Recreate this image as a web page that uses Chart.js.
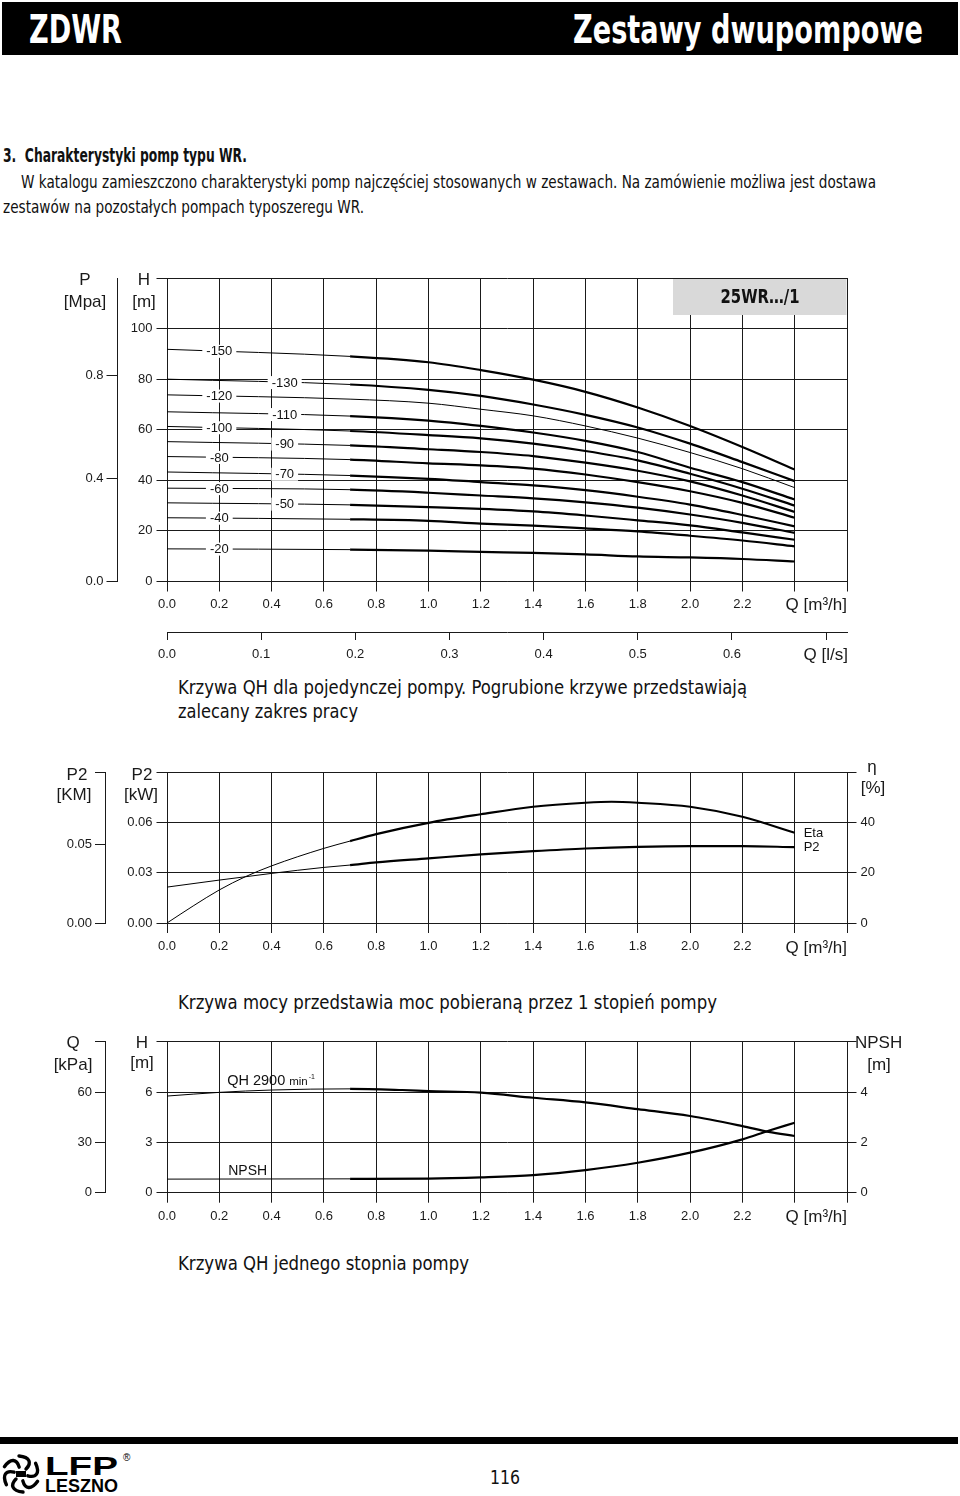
<!DOCTYPE html>
<html lang="pl">
<head>
<meta charset="utf-8">
<title>ZDWR – Zestawy dwupompowe</title>
<script src="https://cdn.jsdelivr.net/npm/chart.js@4.4.1/dist/chart.umd.min.js"></script>
<style>
  body { margin: 0; background: #fff; }
  #page { position: relative; width: 960px; height: 1496px; overflow: hidden; color: #111;
          font-family: "Liberation Sans Narrow", "DejaVu Sans Condensed", "Liberation Sans", Arial, sans-serif; }
  .t { position: absolute; white-space: nowrap; line-height: 1; transform-origin: 0 0; }
  .bar { position: absolute; background: #000; }
  .box { position: absolute; left: 0; width: 960px; }
</style>
</head>
<body>
<div id="page">
  <div class="bar" style="left:2px;top:2px;width:956px;height:53px"></div>
  <div class="t" data-w="93" style="left:29px;top:10px;font-size:39px;font-weight:bold;color:#fff">ZDWR</div>
  <div class="t" data-w="350" style="left:573px;top:9.5px;font-size:39px;font-weight:bold;color:#fff">Zestawy dwupompowe</div>

  <div class="t" data-w="244" style="left:3px;top:145.5px;font-size:19px;font-weight:bold">3.&nbsp; Charakterystyki pomp typu WR.</div>
  <div class="t" data-w="855" style="left:21px;top:172.5px;font-size:18.5px">W katalogu zamieszczono charakterystyki pomp najczęściej stosowanych w zestawach. Na zamówienie możliwa jest dostawa</div>
  <div class="t" data-w="361" style="left:3px;top:197.5px;font-size:18.5px">zestawów na pozostałych pompach typoszeregu WR.</div>

  <div class="box" style="top:260px;height:410px"><canvas id="qhChart"></canvas></div>
  <div class="t" data-w="569" style="left:178px;top:677px;font-size:20px">Krzywa QH dla pojedynczej pompy. Pogrubione krzywe przedstawiają</div>
  <div class="t" data-w="180" style="left:178px;top:701px;font-size:20px">zalecany zakres pracy</div>

  <div class="box" style="top:740px;height:230px"><canvas id="powerChart"></canvas></div>
  <div class="t" data-w="539" style="left:178px;top:992px;font-size:20px">Krzywa mocy przedstawia moc pobieraną przez 1 stopień pompy</div>

  <div class="box" style="top:1020px;height:210px"><canvas id="stageChart"></canvas></div>
  <div class="t" data-w="291" style="left:178px;top:1253px;font-size:20px">Krzywa QH jednego stopnia pompy</div>

  <div class="bar" style="left:0;top:1437px;width:958px;height:7px"></div>
  <svg style="position:absolute;left:0;top:1451px" width="140" height="44" viewBox="0 0 140 44">
    <g transform="translate(21,23)" fill="none" stroke="#000" stroke-width="3.4" stroke-linecap="round">
      <path d="M5,-5 C11,-11 9,-17 -2,-18"/>
      <path d="M5,-5 C11,-11 9,-17 -2,-18" transform="rotate(60)"/>
      <path d="M5,-5 C11,-11 9,-17 -2,-18" transform="rotate(120)"/>
      <path d="M5,-5 C11,-11 9,-17 -2,-18" transform="rotate(180)"/>
      <path d="M5,-5 C11,-11 9,-17 -2,-18" transform="rotate(240)"/>
      <path d="M5,-5 C11,-11 9,-17 -2,-18" transform="rotate(300)"/>
    </g>
    <rect x="16" y="20" width="10" height="6" fill="#000"/>
    <text x="45" y="24" font-family="Liberation Sans, Arial" font-weight="bold" font-size="26" textLength="73" lengthAdjust="spacingAndGlyphs">LFP</text>
    <text x="45" y="41" font-family="Liberation Sans, Arial" font-weight="bold" font-size="19" textLength="73" lengthAdjust="spacingAndGlyphs">LESZNO</text>
    <text x="123" y="10" font-family="Liberation Sans, Arial" font-size="10">®</text>
  </svg>
  <div class="t" data-w="30" style="left:490px;top:1468px;font-size:19px">116</div>
</div>

<script>
// ---------- dane: wykres QH dla zestawu stopni ----------
const qhFlow = [0, 0.7, 1.0, 1.2, 1.4, 1.6, 1.8, 2.0, 2.2, 2.4];
const stageNames = ["-150", "-130", "-120", "-110", "-100", "-90", "-80", "-70", "-60", "-50", "-40", "-20"];
const head150 = [91.8, 89.0, 86.7, 83.6, 79.8, 75.0, 68.8, 61.5, 53.2, 44.3];
const head130 = [80.0, 77.9, 75.8, 73.4, 70.0, 65.9, 60.9, 54.5, 47.2, 39.7];
const head120 = [73.8, 72.1, 70.5, 68.1, 65.5, 61.5, 56.7, 51.0, 44.6, 37.1];
const head110 = [67.1, 65.4, 63.6, 61.5, 58.9, 55.6, 51.2, 45.0, 39.3, 32.4];
const head100 = [61.3, 59.5, 57.9, 56.6, 54.5, 51.6, 47.9, 42.6, 36.7, 30.0];
const head90 = [55.3, 53.8, 52.3, 51.2, 49.6, 47.0, 43.8, 39.6, 34.0, 27.5];
const head80 = [49.4, 48.2, 46.7, 45.9, 44.6, 42.3, 39.3, 35.7, 31.1, 25.2];
const head70 = [43.3, 41.9, 40.6, 39.3, 38.0, 36.1, 33.5, 30.4, 26.3, 21.8];
const head60 = [36.9, 36.3, 35.1, 34.0, 32.9, 31.3, 29.2, 26.5, 23.2, 19.2];
const head50 = [31.1, 30.3, 29.4, 28.7, 27.7, 26.1, 24.2, 22.2, 19.4, 16.5];
const head40 = [25.2, 24.6, 24.0, 22.9, 22.1, 21.0, 19.8, 18.1, 16.2, 13.9];
const head20 = [12.9, 12.6, 12.2, 11.7, 11.3, 10.7, 9.9, 9.5, 8.9, 7.9];
const stageHeads = [head150, head130, head120, head110, head100, head90, head80, head70, head60, head50, head40, head20];
// gdzie stoi opis krzywej (Q w m3/h)
const stageLabelAt = [0.2, 0.45, 0.2, 0.45, 0.2, 0.45, 0.2, 0.45, 0.2, 0.45, 0.2, 0.2];
// krzywa -120 nie jest pogrubiona
const stageThick = [true, true, false, true, true, true, true, true, true, true, true, true];

// ---------- dane: krzywa mocy i sprawności ----------
const etaFlow = [0, 0.1, 0.2, 0.3, 0.4, 0.6, 0.7, 0.8, 1.0, 1.2, 1.4, 1.6, 1.7, 1.8, 2.0, 2.2, 2.4];
const etaValues = [0, 6.8, 13.2, 18.5, 22.8, 29.8, 32.7, 35.5, 40.0, 43.4, 46.4, 48.0, 48.4, 48.0, 46.4, 42.4, 36.0];
const p2Flow = [0, 0.2, 0.4, 0.6, 0.7, 0.8, 1.0, 1.2, 1.4, 1.6, 1.8, 2.0, 2.2, 2.4];
const p2Values = [0.0215, 0.0257, 0.0297, 0.0333, 0.0347, 0.0363, 0.0387, 0.0411, 0.043, 0.0446, 0.0456, 0.046, 0.046, 0.0454];

// ---------- dane: jeden stopień ----------
const stageFlow = [0, 0.2, 0.4, 0.7, 0.9, 1.0, 1.2, 1.4, 1.6, 1.8, 2.0, 2.2, 2.3, 2.4];
const stageHead = [5.76, 5.98, 6.12, 6.19, 6.12, 6.06, 5.96, 5.66, 5.38, 4.98, 4.57, 3.97, 3.63, 3.38];
const npshFlow = [0, 0.7, 1.0, 1.2, 1.4, 1.6, 1.8, 2.0, 2.2, 2.3, 2.4];
const npshValues = [0.54, 0.55, 0.56, 0.61, 0.70, 0.90, 1.19, 1.59, 2.12, 2.46, 2.78];

// ---------- podziałki ----------
const flowTicks = [0, 0.2, 0.4, 0.6, 0.8, 1.0, 1.2, 1.4, 1.6, 1.8, 2.0, 2.2, 2.4, 2.6];
const flowTickLabels = ["0.0", "0.2", "0.4", "0.6", "0.8", "1.0", "1.2", "1.4", "1.6", "1.8", "2.0", "2.2", "", ""];
const lpsTicks = [0, 0.1, 0.2, 0.3, 0.4, 0.5, 0.6, 0.7];
const lpsTickLabels = ["0.0", "0.1", "0.2", "0.3", "0.4", "0.5", "0.6", ""];
const headTicks = [0, 20, 40, 60, 80, 100, 120];
const headTickLabels = ["0", "20", "40", "60", "80", "100", ""];
const pressTicks = [0, 0.4, 0.8];
const pressTickLabels = ["0.0", "0.4", "0.8"];
const kwTicks = [0, 0.03, 0.06, 0.09];
const kwTickLabels = ["0.00", "0.03", "0.06", ""];
const kmTicks = [0, 0.05, 0.096];
const kmTickLabels = ["0.00", "0.05", ""];
const etaTicks = [0, 20, 40, 60];
const etaTickLabels = ["0", "20", "40", ""];
const stageHeadTicks = [0, 3, 6, 9];
const stageHeadTickLabels = ["0", "3", "6", ""];
const kpaTicks = [0, 30, 60, 90];
const kpaTickLabels = ["0", "30", "60", ""];
const npshTicks = [0, 2, 4, 6];
const npshTickLabels = ["0", "2", "4", ""];

// ---------- wspólne ustawienia ----------
const ink = "#1a1a1a";
const sans = "'Liberation Sans', Arial, sans-serif";
const narrow = "'Liberation Sans Narrow', 'DejaVu Sans Condensed', 'Liberation Sans', Arial, sans-serif";
const tickFont = { family: sans, size: 13 };

function points(xs, ys) {
  return xs.map((x, i) => ({ x: x, y: ys[i] }));
}
function fixedSize(size) {
  return function (scale) {
    if (scale.isHorizontal()) scale.height = size;
    else scale.width = size;
  };
}
function setTicks(values) {
  return function (scale) {
    scale.ticks = values.map((v) => ({ value: v }));
  };
}
function axis(opts) {
  return {
    type: "linear",
    position: opts.position,
    weight: opts.weight || 0,
    min: opts.min,
    max: opts.max,
    afterBuildTicks: setTicks(opts.ticks),
    afterFit: fixedSize(opts.size),
    ticks: {
      font: tickFont,
      color: ink,
      padding: opts.padding,
      autoSkip: false,
      maxRotation: 0,
      callback: (v, i) => opts.labels[i],
    },
    grid: {
      color: ink,
      lineWidth: 1,
      tickLength: opts.tickLength,
      drawOnChartArea: opts.onArea !== false,
    },
    border: { color: ink, width: 1 },
  };
}
// cienka linia do 0.7 m3/h, dalej pogrubiona (zalecany zakres)
function curve(data, yAxisID, thick) {
  return {
    data: data,
    yAxisID: yAxisID,
    borderColor: "#000",
    pointRadius: 0,
    cubicInterpolationMode: "monotone",
    borderWidth: 1,
    segment: {
      borderWidth: (ctx) => (thick && ctx.p0.parsed.x >= 0.699 ? 2.2 : 1),
    },
  };
}
function valueAt(data, xv) {
  for (let i = 1; i < data.length; i++) {
    if (xv <= data[i].x) {
      const a = data[i - 1], b = data[i];
      return a.y + ((b.y - a.y) * (xv - a.x)) / (b.x - a.x);
    }
  }
  return data[data.length - 1].y;
}
function fitText(ctx, text, x, y, width) {
  const w = ctx.measureText(text).width;
  ctx.save();
  ctx.translate(x, y);
  ctx.scale(width / w, 1);
  ctx.fillText(text, 0, 0);
  ctx.restore();
}
// opisy osi rysowane na płótnie
function titles(items) {
  return {
    id: "titles",
    afterDraw(chart) {
      const ctx = chart.ctx;
      ctx.save();
      ctx.fillStyle = ink;
      ctx.textBaseline = "middle";
      items.forEach((it) => {
        ctx.font = (it.size || 17) + "px " + sans;
        ctx.textAlign = it.align || "center";
        ctx.fillText(it.t, it.x, it.y);
      });
      ctx.restore();
    },
  };
}
function baseOptions(padding, scales) {
  return {
    responsive: true,
    maintainAspectRatio: false,
    animation: false,
    events: [],
    layout: { padding: padding },
    plugins: { legend: { display: false }, tooltip: { enabled: false } },
    scales: scales,
  };
}

// ---------- wykres 1: QH ----------
const qhDatasets = stageHeads.map((h, i) => curve(points(qhFlow, h), "y", stageThick[i]));

new Chart(document.getElementById("qhChart"), {
  type: "line",
  data: { datasets: qhDatasets },
  options: baseOptions({ left: 0, right: 113, top: 18, bottom: 0 }, {
    x: axis({ position: "bottom", min: 0, max: 2.6, ticks: flowTicks, labels: flowTickLabels, size: 50.5, padding: 5, tickLength: 10 }),
    x2: axis({ position: "bottom", weight: 1, min: 0, max: 2.6 / 3.6, ticks: lpsTicks, labels: lpsTickLabels, size: 38, padding: 7, tickLength: 8, onArea: false }),
    y: axis({ position: "left", min: 0, max: 120, ticks: headTicks, labels: headTickLabels, size: 50, padding: 4, tickLength: 10.5 }),
    p: axis({ position: "left", weight: 1, min: 0, max: 120 / 102, ticks: pressTicks, labels: pressTickLabels, size: 117, padding: 3, tickLength: 10.5, onArea: false }),
  }),
  plugins: [
    {
      id: "typeBox",
      beforeDatasetsDraw(chart) {
        const a = chart.chartArea, ctx = chart.ctx;
        ctx.save();
        ctx.fillStyle = "#d9d9d9";
        ctx.fillRect(a.right - 174, a.top + 1, 173.5, 36);
        ctx.fillStyle = "#111";
        ctx.font = "bold 20px " + narrow;
        ctx.textAlign = "center";
        ctx.textBaseline = "middle";
        fitText(ctx, "25WR…/1", a.right - 87, a.top + 19.5, 79);
        ctx.restore();
      },
    },
    {
      id: "stageLabels",
      afterDatasetsDraw(chart) {
        const ctx = chart.ctx, xs = chart.scales.x, ys = chart.scales.y;
        ctx.save();
        ctx.font = "13px " + sans;
        ctx.textAlign = "center";
        ctx.textBaseline = "middle";
        stageNames.forEach((name, i) => {
          const xv = stageLabelAt[i];
          const px = xs.getPixelForValue(xv);
          const py = ys.getPixelForValue(valueAt(chart.data.datasets[i].data, xv));
          const w = ctx.measureText(name).width;
          ctx.fillStyle = "#fff";
          ctx.fillRect(px - w / 2 - 4, py - 6.5, w + 8, 13);
          ctx.fillStyle = "#111";
          ctx.fillText(name, px, py + 0.5);
        });
        ctx.restore();
      },
    },
    titles([
      { t: "P", x: 85, y: 20 },
      { t: "[Mpa]", x: 85, y: 42 },
      { t: "H", x: 144, y: 20 },
      { t: "[m]", x: 144, y: 42 },
      { t: "Q [m³/h]", x: 847, y: 345, align: "right" },
      { t: "Q [l/s]", x: 848, y: 395, align: "right" },
    ]),
  ],
});

// ---------- wykres 2: moc P2 i sprawność ----------
const p2Data = points(p2Flow, p2Values);
const etaData = points(etaFlow, etaValues);

new Chart(document.getElementById("powerChart"), {
  type: "line",
  data: { datasets: [curve(p2Data, "y", true), curve(etaData, "eta", true)] },
  options: baseOptions({ left: 0, right: 63, top: 32.7, bottom: 0 }, {
    x: axis({ position: "bottom", min: 0, max: 2.6, ticks: flowTicks, labels: flowTickLabels, size: 47, padding: 6, tickLength: 10 }),
    y: axis({ position: "left", min: 0, max: 0.09, ticks: kwTicks, labels: kwTickLabels, size: 62, padding: 4, tickLength: 10.5 }),
    km: axis({ position: "left", weight: 1, min: 0, max: 0.096, ticks: kmTicks, labels: kmTickLabels, size: 105, padding: 3, tickLength: 10, onArea: false }),
    eta: axis({ position: "right", min: 0, max: 60, ticks: etaTicks, labels: etaTickLabels, size: 50, padding: 4, tickLength: 9.5, onArea: false }),
  }),
  plugins: [
    {
      id: "endLabels",
      afterDatasetsDraw(chart) {
        const ctx = chart.ctx, xs = chart.scales.x;
        ctx.save();
        ctx.font = "13px " + sans;
        ctx.fillStyle = "#111";
        ctx.textAlign = "left";
        ctx.textBaseline = "middle";
        [["P2", p2Data, "y"], ["Eta", etaData, "eta"]].forEach(([name, data, axisId]) => {
          const last = data[data.length - 1];
          ctx.fillText(name, xs.getPixelForValue(last.x) + 9, chart.scales[axisId].getPixelForValue(last.y) + 0.5);
        });
        ctx.restore();
      },
    },
    titles([
      { t: "P2", x: 77, y: 35 },
      { t: "[KM]", x: 74, y: 55 },
      { t: "P2", x: 142, y: 35 },
      { t: "[kW]", x: 141, y: 55 },
      { t: "η", x: 872, y: 27 },
      { t: "[%]", x: 873, y: 48 },
      { t: "Q [m³/h]", x: 847, y: 208, align: "right" },
    ]),
  ],
});

// ---------- wykres 3: jeden stopień, NPSH ----------
const stageData = points(stageFlow, stageHead);
const npshData = points(npshFlow, npshValues);

new Chart(document.getElementById("stageChart"), {
  type: "line",
  data: { datasets: [curve(stageData, "y", true), curve(npshData, "npsh", true)] },
  options: baseOptions({ left: 0, right: 63, top: 21.7, bottom: 0 }, {
    x: axis({ position: "bottom", min: 0, max: 2.6, ticks: flowTicks, labels: flowTickLabels, size: 37.3, padding: 6, tickLength: 10 }),
    y: axis({ position: "left", min: 0, max: 9, ticks: stageHeadTicks, labels: stageHeadTickLabels, size: 62, padding: 4, tickLength: 10.5 }),
    kpa: axis({ position: "left", weight: 1, min: 0, max: 90, ticks: kpaTicks, labels: kpaTickLabels, size: 105, padding: 3, tickLength: 10, onArea: false }),
    npsh: axis({ position: "right", min: 0, max: 6, ticks: npshTicks, labels: npshTickLabels, size: 50, padding: 4, tickLength: 9.5, onArea: false }),
  }),
  plugins: [
    {
      id: "curveNames",
      afterDatasetsDraw(chart) {
        const ctx = chart.ctx, xs = chart.scales.x;
        ctx.save();
        ctx.fillStyle = "#111";
        ctx.textAlign = "left";
        ctx.textBaseline = "alphabetic";
        let x = xs.getPixelForValue(0.23);
        let y = chart.scales.y.getPixelForValue(valueAt(stageData, 0.23)) - 7;
        ctx.font = "14.5px " + sans;
        ctx.fillText("QH 2900", x, y);
        x += ctx.measureText("QH 2900 ").width;
        ctx.font = "11.5px " + sans;
        ctx.fillText("min", x, y);
        x += ctx.measureText("min").width + 1;
        ctx.font = "7px " + sans;
        ctx.fillText("-1", x, y - 6);
        ctx.font = "14px " + sans;
        const ny = chart.scales.npsh.getPixelForValue(valueAt(npshData, 0.23)) - 4;
        ctx.fillText("NPSH", xs.getPixelForValue(0.234), ny);
        ctx.restore();
      },
    },
    titles([
      { t: "Q", x: 73, y: 23 },
      { t: "[kPa]", x: 73, y: 45 },
      { t: "H", x: 142, y: 23 },
      { t: "[m]", x: 142, y: 43 },
      { t: "NPSH", x: 855, y: 23, align: "left" },
      { t: "[m]", x: 879, y: 45 },
      { t: "Q [m³/h]", x: 847, y: 197, align: "right" },
    ]),
  ],
});

// dopasowanie szerokości tekstów (krój wąski)
document.querySelectorAll(".t[data-w]").forEach((el) => {
  const w = el.getBoundingClientRect().width;
  if (w > 0) el.style.transform = "scaleX(" + el.dataset.w / w + ")";
});
</script>
</body>
</html>
